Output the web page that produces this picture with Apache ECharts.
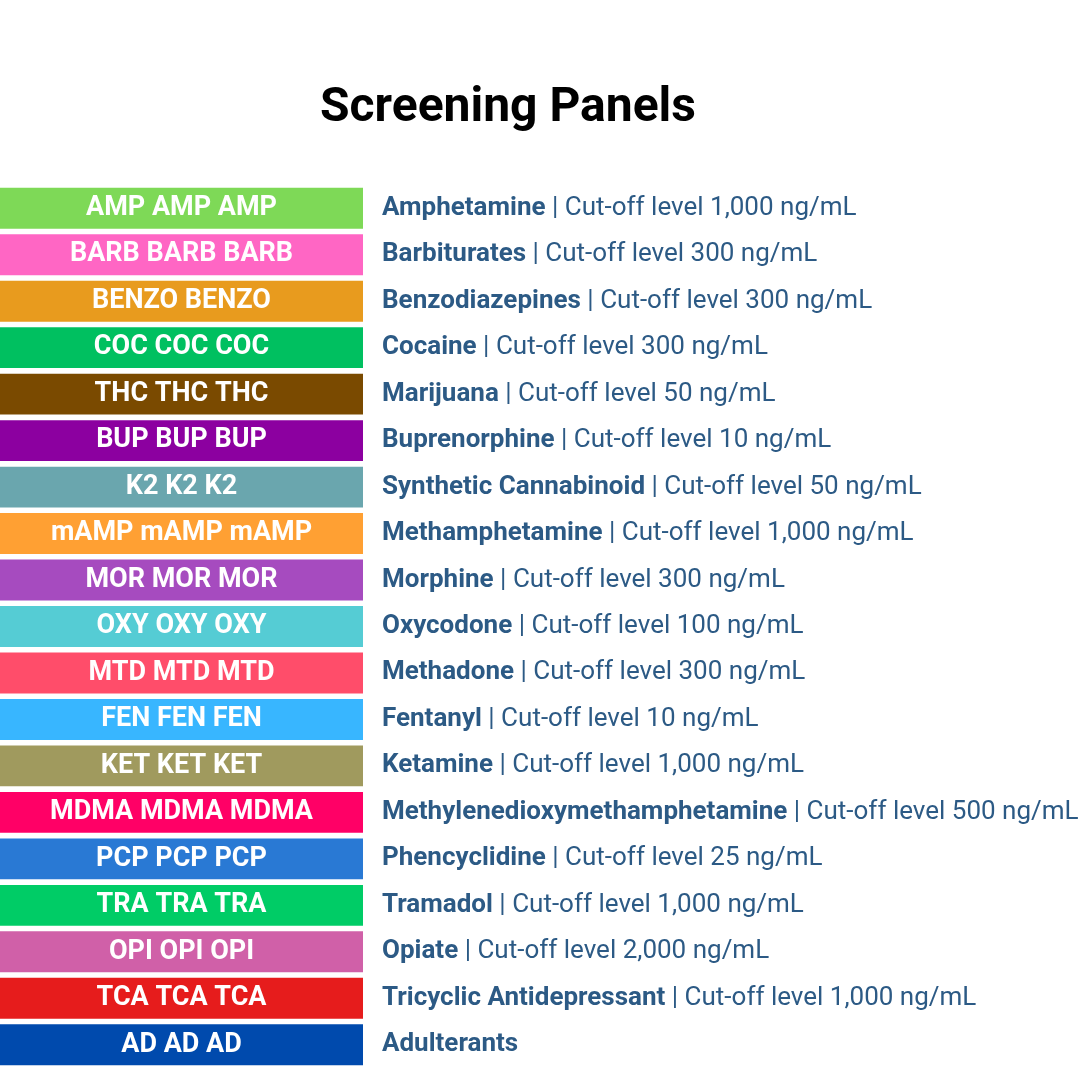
<!DOCTYPE html>
<html><head><meta charset="utf-8">
<script src="https://cdn.jsdelivr.net/npm/echarts@6/dist/echarts.min.js"></script>
<style>html,body{margin:0;padding:0;background:#fff}#c{width:1080px;height:1080px}</style>
</head><body><div id="c"></div>
<script>
const codes=["AMP AMP AMP","BARB BARB BARB","BENZO BENZO","COC COC COC","THC THC THC","BUP BUP BUP","K2 K2 K2","mAMP mAMP mAMP","MOR MOR MOR","OXY OXY OXY","MTD MTD MTD","FEN FEN FEN","KET KET KET","MDMA MDMA MDMA","PCP PCP PCP","TRA TRA TRA","OPI OPI OPI","TCA TCA TCA","AD AD AD"];
const names=["Amphetamine","Barbiturates","Benzodiazepines","Cocaine","Marijuana","Buprenorphine","Synthetic Cannabinoid","Methamphetamine","Morphine","Oxycodone","Methadone","Fentanyl","Ketamine","Methylenedioxymethamphetamine","Phencyclidine","Tramadol","Opiate","Tricyclic Antidepressant","Adulterants"];
const cutoffs=["1,000","300","300","300","50","10","50","1,000","300","100","300","10","1,000","500","25","1,000","2,000","1,000",""];
const colors=["#7ed957","#ff66c4","#e89b1e","#00c060","#7a4a00","#8c00a0","#6aa6ae","#ffa033","#a64bbf","#55ccd4","#ff4d6a","#38b6ff","#a09a5e","#ff0066","#2979d4","#00cc66","#d060a8","#e61c1c","#004aad"];
const values=codes.map(()=>1);
const font='"Liberation Sans Narrow","Roboto",sans-serif';
const chart=echarts.init(document.getElementById('c'));
chart.setOption({
  animation:false,
  title:{text:'Screening Panels',left:503,top:80,textAlign:'center',textStyle:{fontSize:48,fontWeight:'bold',color:'#000',fontFamily:font}},
  grid:{left:0,top:185,width:363,height:883},
  xAxis:{type:'value',min:0,max:1,show:false},
  yAxis:{type:'category',data:codes,inverse:true,show:false},
  series:[
    {type:'bar',data:values.map((v,i)=>({value:v,itemStyle:{color:colors[i]}})),barCategoryGap:'12%',
     label:{show:true,position:'inside',formatter:p=>codes[p.dataIndex],color:'#fff',fontSize:27,fontWeight:'bold',fontFamily:font}},
    {type:'bar',data:values,barGap:'-100%',itemStyle:{color:'rgba(0,0,0,0)'},silent:true,
     label:{show:true,position:'right',distance:19,
       formatter:p=>{const c=cutoffs[p.dataIndex];return '{b|'+names[p.dataIndex]+'}'+(c?'{n| | Cut-off level '+c+' ng/mL}':'');},
       rich:{b:{fontSize:26,fontWeight:'bold',color:'#2c5a85',fontFamily:font},n:{fontSize:26,color:'#2c5a85',fontFamily:font}}}}
  ]
});
</script></body></html>
